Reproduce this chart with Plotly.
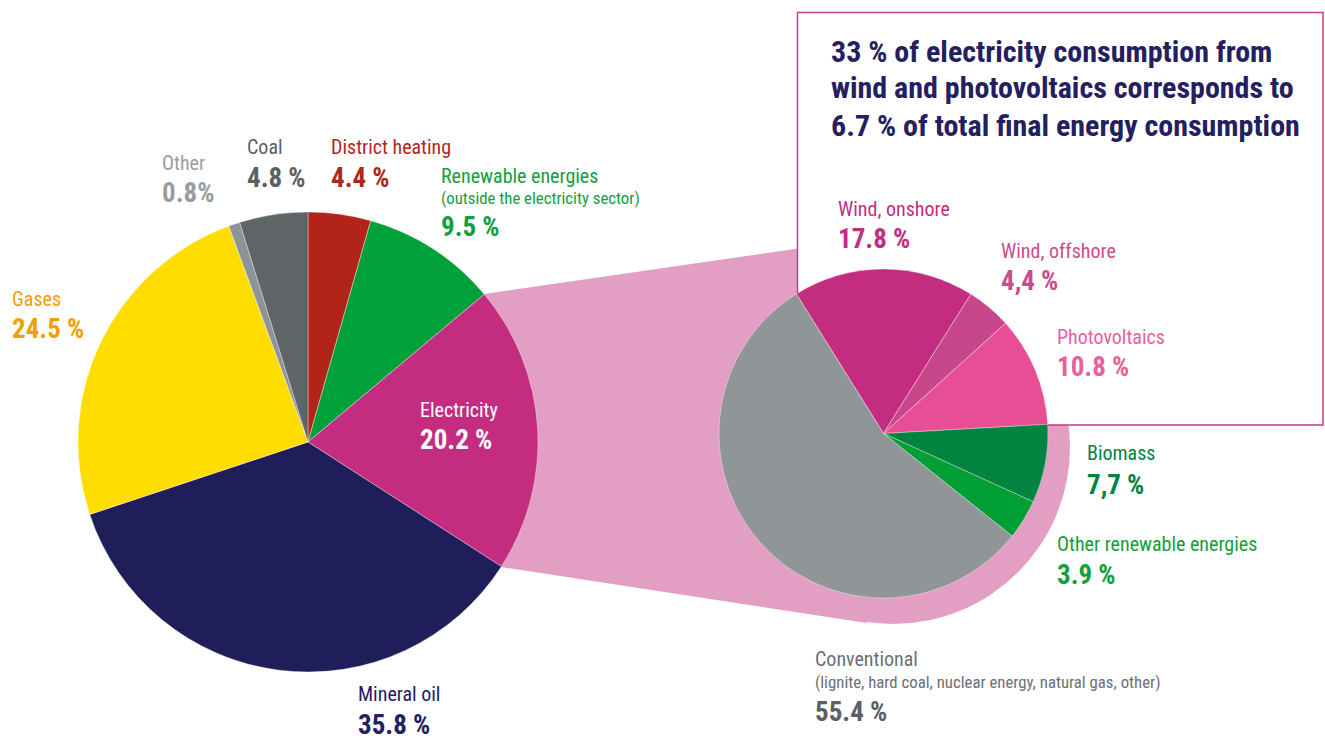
import plotly.graph_objects as go

W, H = 1325, 742

# ---- data ----
main_labels = ["District heating", "Renewable energies", "Electricity", "Mineral oil", "Gases", "Other", "Coal"]
main_values = [4.4, 9.5, 20.2, 35.8, 24.5, 0.8, 4.8]
main_colors = ["#B22418", "#00A03A", "#C42D7F", "#1F1E5A", "#FFDD00", "#8D9498", "#5F6566"]

elec_labels = ["Wind, onshore", "Wind, offshore", "Photovoltaics", "Biomass", "Other renewable energies", "Conventional"]
elec_values = [17.8, 4.4, 10.8, 7.7, 3.9, 55.4]
elec_colors = ["#C42D7F", "#C8478A", "#E84E96", "#008440", "#009F36", "#909598"]

main_value_text = ["4.4 %", "9.5 %", "20.2 %", "35.8 %", "24.5 %", "0.8%", "4.8 %"]
elec_value_text = ["17.8 %", "4,4 %", "10.8 %", "7,7 %", "3.9 %", "55.4 %"]

box_text = ["33 % of electricity consumption from",
            "wind and photovoltaics corresponds to",
            "6.7 % of total final energy consumption"]

FONT = "Liberation Sans Narrow, Roboto Condensed, DejaVu Sans Condensed, Arial Narrow, sans-serif"


def px(x):
    return x / W


def py(y):
    return 1 - y / H


fig = go.Figure()

# left pie: centre (308,442) r=230
fig.add_trace(go.Pie(
    labels=main_labels, values=main_values, sort=False, direction="clockwise", rotation=0,
    marker=dict(colors=main_colors, line=dict(color="rgba(255,255,255,0.6)", width=0.6)),
    textinfo="none", hoverinfo="label+value", showlegend=False,
    domain=dict(x=[px(78), px(538)], y=[py(672), py(212)]),
))

# right pie: centre (883.5,433.5) r=164.5
fig.add_trace(go.Pie(
    labels=elec_labels, values=elec_values, sort=False, direction="clockwise", rotation=-32,
    marker=dict(colors=elec_colors, line=dict(color="rgba(255,255,255,0.6)", width=0.6)),
    textinfo="none", hoverinfo="label+value", showlegend=False,
    domain=dict(x=[px(719), px(1048)], y=[py(598), py(269)]),
))

PINK = "#E39EC3"
shapes = []
# connector polygon
pts = [(484, 294), (850, 241), (883, 434), (867, 623), (501, 567)]
path = "M " + " L ".join(f"{px(x):.5f},{py(y):.5f}" for x, y in pts) + " Z"
shapes.append(dict(type="path", xref="paper", yref="paper", path=path,
                   fillcolor=PINK, line=dict(width=0), layer="below"))
# shadow circle
cx, cy, r = 893, 447, 177
shapes.append(dict(type="circle", xref="paper", yref="paper",
                   x0=px(cx - r), x1=px(cx + r), y0=py(cy + r), y1=py(cy - r),
                   fillcolor=PINK, line=dict(width=0), layer="below"))
# box
shapes.append(dict(type="rect", xref="paper", yref="paper",
                   x0=px(797.5), x1=px(1323), y0=py(425), y1=py(12.5),
                   fillcolor="white", line=dict(color="#C83A86", width=1.5), layer="below"))

ann = []


def label(x, y, text, color, size, bold=False):
    t = f"<b>{text}</b>" if bold else text
    ann.append(dict(x=px(x), y=py(y), xref="paper", yref="paper", text=t, showarrow=False,
                    xanchor="left", yanchor="middle", align="left", borderpad=0,
                    font=dict(family=FONT, size=size, color=color)))


REG, SMALL, BIG = 20, 16.8, 27

# left pie labels
label(161, 163, "Other", "#979EA2", REG)
label(161, 193, main_value_text[5], "#979EA2", BIG, True)
label(246, 147, "Coal", "#5B6163", REG)
label(246, 178, main_value_text[6], "#5B6163", BIG, True)
label(330, 147, main_labels[0], "#B1261C", REG)
label(330, 178, main_value_text[0], "#B1261C", BIG, True)
label(440, 176, "Renewable energies", "#11A03E", REG)
label(440, 198, "(outside the electricity sector)", "#11A03E", SMALL)
label(440, 227, main_value_text[1], "#11A03E", BIG, True)
label(11, 299, "Gases", "#F29F00", REG)
label(11, 329, main_value_text[4], "#F29F00", BIG, True)
label(419, 410, "Electricity", "white", REG)
label(419, 440, main_value_text[2], "white", BIG, True)
label(357, 694, "Mineral oil", "#24205F", REG)
label(357, 725, main_value_text[3], "#24205F", BIG, True)

# right pie labels
label(837, 209, elec_labels[0], "#C42D7F", REG)
label(837, 239, elec_value_text[0], "#C42D7F", BIG, True)
label(1000, 251, elec_labels[1], "#CC4B8C", REG)
label(1000, 281, elec_value_text[1], "#CC4B8C", BIG, True)
label(1056, 337, elec_labels[2], "#E9609F", REG)
label(1056, 367, elec_value_text[2], "#E9609F", BIG, True)
label(1086, 453, elec_labels[3], "#00843F", REG)
label(1086, 485, elec_value_text[3], "#00843F", BIG, True)
label(1056, 544, elec_labels[4], "#10A03C", REG)
label(1056, 575, elec_value_text[4], "#10A03C", BIG, True)
label(814, 659, elec_labels[5], "#6B7073", REG)
label(814, 682, "(lignite, hard coal, nuclear energy, natural gas, other)", "#6B7073", SMALL)
label(814, 712, elec_value_text[5], "#5A6063", BIG, True)

# box text
for i, line in enumerate(box_text):
    label(830, 51 + 37 * i, line, "#24205F", 30, True)

fig.update_layout(
    width=W, height=H, margin=dict(l=0, r=0, t=0, b=0),
    paper_bgcolor="white", plot_bgcolor="white",
    shapes=shapes, annotations=ann, showlegend=False,
)

fig.write_html("out.html")
